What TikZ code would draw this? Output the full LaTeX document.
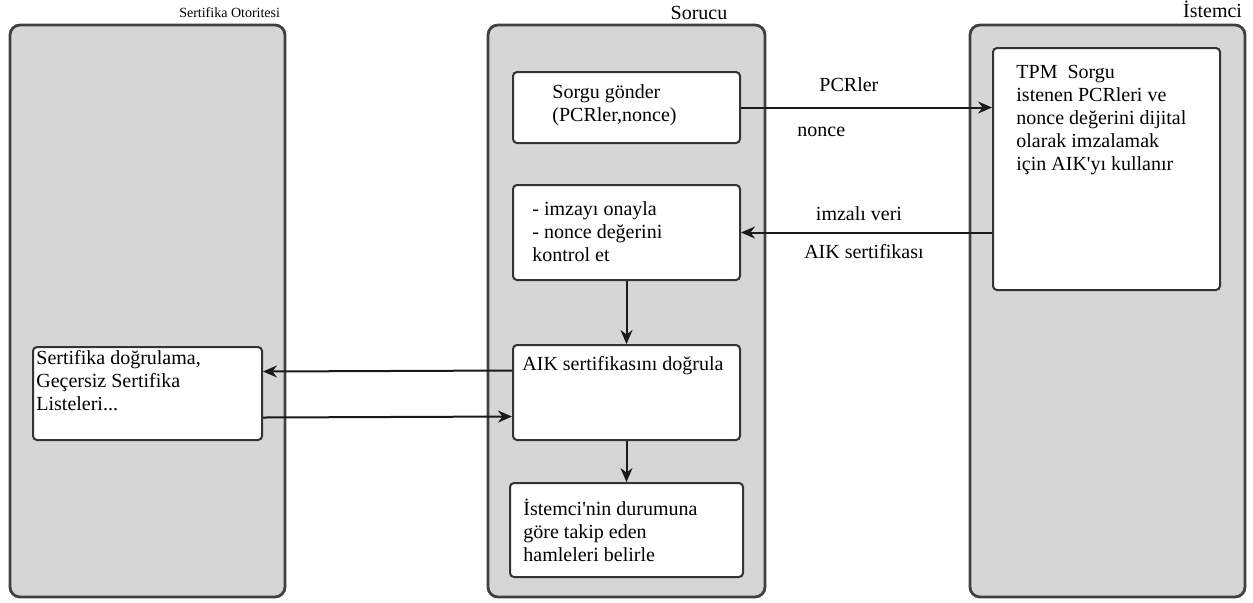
\documentclass[tikz,border=0pt]{standalone}
\usepackage{fontspec}
\setmainfont{Liberation Serif}
\usetikzlibrary{arrows.meta}

\begin{document}
\begin{tikzpicture}[x=0.5pt, y=-0.5pt, font=\fontsize{10}{11.5}\selectfont,
    panel/.style={draw=black!75, line width=1.4pt, fill={rgb,255:red,214;green,214;blue,214},
      rounded corners=5pt, inner sep=0pt, minimum width=137.5pt, minimum height=286pt},
    box/.style={draw=black!80, line width=1pt, fill=white, rounded corners=2pt,
      inner sep=0pt, minimum width=113.5pt},
    txt/.style={align=left, inner sep=1pt},
    title/.style={inner sep=1pt},
    arrow/.style={draw=black!90, line width=1pt, -{Stealth[length=7pt, width=6pt]}}]
  \useasboundingbox (0,0) rectangle (1253,602);

  % panels
  \node[panel] (ca)  at (147.5, 311) {};
  \node[panel, minimum width=138.5pt] (sor) at (626.5, 311) {};
  \node[panel] (ist) at (1107.5, 311) {};
  \node[title, anchor=south east, font=\fontsize{7}{8}\selectfont] (catitle) at ([xshift=-2pt, yshift=2pt]ca.north east) {Sertifika Otoritesi};
  \node[title, anchor=south] (sortitle) at (699, 22) {Sorucu};
  \node[title, anchor=south east] (isttitle) at ([xshift=-1pt, yshift=2pt]ist.north east) {İstemci};

  % boxes
  \node[box, minimum height=35.5pt] (sorgu) at (626.5, 107.5) {};
  \node[box, minimum height=47.5pt] (imza)  at (626.5, 232.5) {};
  \node[box, minimum height=47.5pt] (aik)   at (626.5, 392.5) {};
  \node[box, minimum width=116.5pt, minimum height=47pt] (durum) at (626.5, 530) {};
  \node[box, minimum height=121pt] (tpm) at (1106.5, 169) {};
  \node[box, minimum width=114.5pt, minimum height=46.5pt] (crl) at (147.5, 393.5) {};

  % texts
  \node[txt, anchor=west] (sorgutxt) at ([xshift=19pt, yshift=1pt]sorgu.west) {Sorgu gönder\\(PCRler,nonce)};
  \node[txt, anchor=west] (imzatxt) at ([xshift=9pt, yshift=0.5pt]imza.west) {- imzayı onayla\\- nonce değerini\\kontrol et};
  \node[txt, anchor=north west] (aiktxt) at ([xshift=4pt, yshift=-5pt]aik.north west) {AIK sertifikasını doğrula};
  \node[txt, anchor=west] (durumtxt) at ([xshift=6pt]durum.west) {İstemci\textquotesingle nin durumuna\\göre takip eden\\hamleleri belirle};
  \node[txt, anchor=north west] (tpmtxt) at ([xshift=11pt, yshift=-8pt]tpm.north west) {TPM\ \ Sorgu\\istenen PCRleri ve\\nonce değerini dijital\\olarak imzalamak\\için AIK\textquotesingle yı kullanır};
  \node[txt, anchor=north west] (crltxt) at ([xshift=1pt, yshift=-1pt]crl.north west) {Sertifika doğrulama,\\Geçersiz Sertifika\\Listeleri...};

  % connectors
  \draw[arrow] (sorgu.east) -- (sorgu.east -| tpm.west)
    node[pos=0.43, above=4pt] (pcr) {PCRler}
    node[pos=0.32, below=6pt] (nonce) {nonce};
  \draw[arrow] (tpm.west |- imza.east) -- (imza.east)
    node[pos=0.53, above=2pt] (veri) {imzalı veri}
    node[pos=0.51, below=2pt] (sert) {AIK sertifikası};
  \draw[arrow] (imza.south) -- (aik.north);
  \draw[arrow] ([yshift=11pt]aik.west) -- ([yshift=11pt]crl.east);
  \draw[arrow] ([yshift=-12pt]crl.east) -- ([yshift=-12pt]aik.west);
  \draw[arrow] (aik.south) -- (durum.north);
\end{tikzpicture}
\end{document}
